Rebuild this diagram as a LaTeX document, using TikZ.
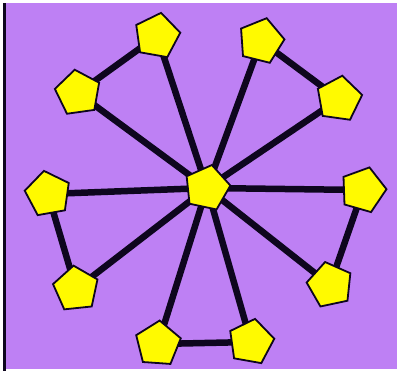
\documentclass[tikz,border=0pt]{standalone}
\usetikzlibrary{shapes.geometric}
\definecolor{lilac}{RGB}{190,128,244}
\definecolor{penta}{RGB}{255,250,0}
\definecolor{ink}{RGB}{14,6,30}
\pgfdeclarelayer{bg}
\pgfdeclarelayer{links}
\pgfsetlayers{bg,links,main}
\begin{document}
\begin{tikzpicture}[x=1pt,y=-1pt,
        hub/.style={draw=ink, fill=penta, regular polygon, regular polygon sides=5, minimum size=47pt, inner sep=0pt, line width=1.8pt},
        link/.style={draw=ink, line width=6.5pt}
    ]
        % Fundo
        \begin{pgfonlayer}{bg}
            \fill[white] (0,0) rectangle (397,371);
            \fill[lilac] (3,3) rectangle (397,369);
            \draw[ink, line width=3pt] (4.5,3) -- (4.5,371);
        \end{pgfonlayer}

        % Centro
        \node[hub, rotate=-12] (c) at (207,188) {};

        % Nos externos
        \node[hub, rotate=-10] (n1) at (157,36) {};
        \node[hub, rotate=-14] (n2) at (261,41) {};
        \node[hub, rotate=8] (n3) at (78,93) {};
        \node[hub, rotate=-8] (n4) at (339,99) {};
        \node[hub, rotate=10] (n5) at (48,194) {};
        \node[hub, rotate=-16] (n6) at (363,190) {};
        \node[hub, rotate=6] (n7) at (76,289) {};
        \node[hub, rotate=12] (n8) at (330,285) {};
        \node[hub, rotate=-4] (n9) at (158,344) {};
        \node[hub, rotate=-10] (n10) at (251,342) {};

        % Ligacoes
        \begin{pgfonlayer}{links}
            \foreach \n in {n1,n2,n3,n4,n5,n6,n7,n8,n9,n10}
                \draw[link] (c.center) -- (\n.center);
            \draw[link] (n1.center) -- (n3.center);
            \draw[link] (n2.center) -- (n4.center);
            \draw[link] (n5.center) -- (n7.center);
            \draw[link] (n6.center) -- (n8.center);
            \draw[link] (n9.center) -- (n10.center);
        \end{pgfonlayer}
    \end{tikzpicture}
\end{document}
